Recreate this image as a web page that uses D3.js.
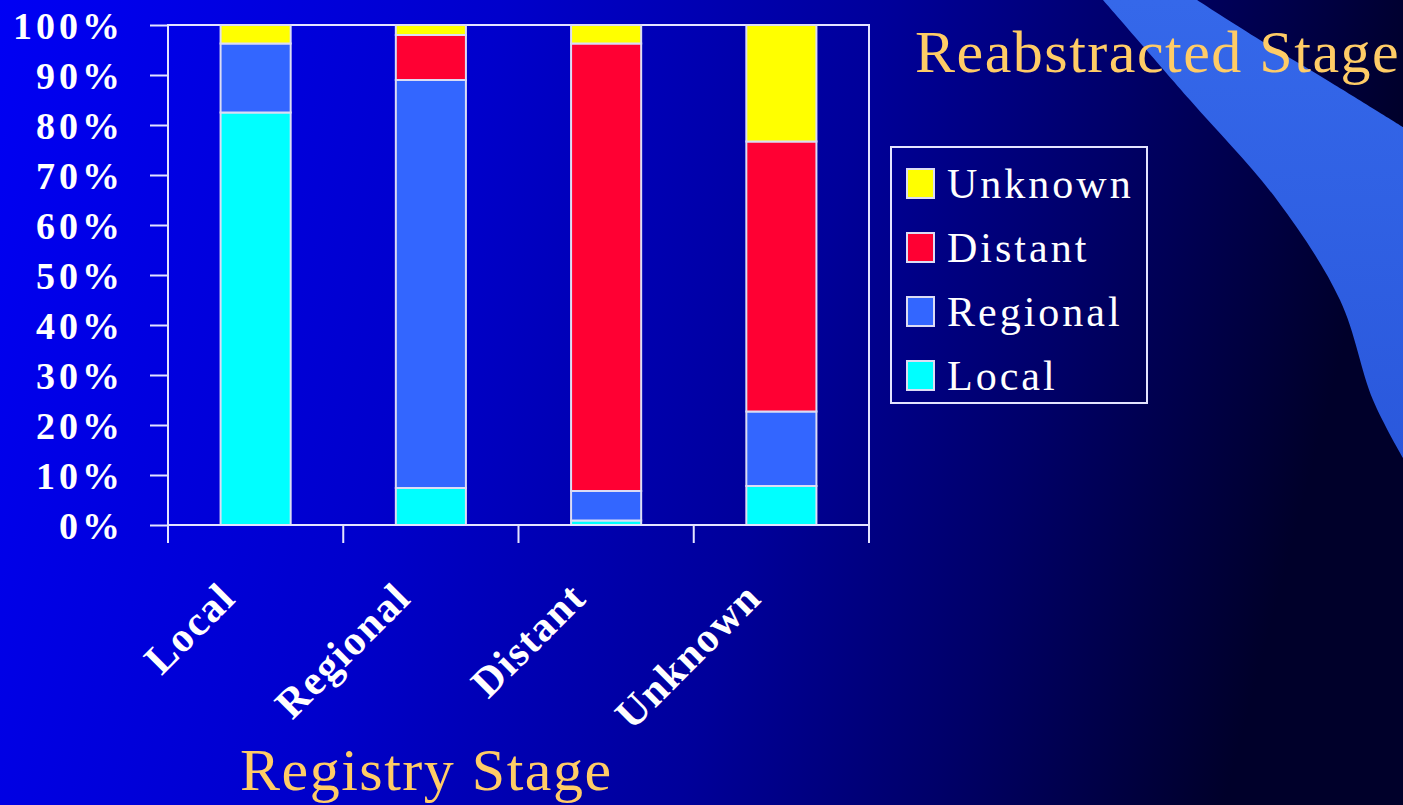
<!DOCTYPE html>
<html>
<head>
<meta charset="utf-8">
<script src="https://cdn.jsdelivr.net/npm/d3@7/dist/d3.min.js"></script>
<style>
  html, body { margin: 0; padding: 0; background: #000030; }
  svg { display: block; }
</style>
</head>
<body>
<svg id="chart" width="1403" height="805"></svg>
<script>
// Registry stage (x axis) vs. reabstracted stage (stack), percent of cases
const categories = ["Local", "Regional", "Distant", "Unknown"];
const seriesNames = ["Local", "Regional", "Distant", "Unknown"];
const localValues    = [82.5,  7.4,  0.9,  7.8];
const regionalValues = [13.8, 81.6,  5.9, 14.9];
const distantValues  = [ 0.0,  9.0, 89.5, 54.0];
const unknownValues  = [ 3.7,  2.0,  3.7, 23.3];
const yTickValues = [0, 10, 20, 30, 40, 50, 60, 70, 80, 90, 100];
const yTickLabels = ["0%", "10%", "20%", "30%", "40%", "50%", "60%", "70%", "80%", "90%", "100%"];
const colors = ["#00FFFF", "#3366FF", "#FF0033", "#FFFF00"];

const svg = d3.select("#chart");
const W = 1403, H = 805;
const plot = { left: 168, right: 869, top: 25, bottom: 525 };
const axisColor = "#E4E4FF";
const serif = "'Liberation Serif', 'Times New Roman', serif";

// Slide background
const defs = svg.append("defs");
const bg = defs.append("linearGradient").attr("id", "bg")
  .attr("x1", "0").attr("y1", "0").attr("x2", "1").attr("y2", "0.15");
bg.append("stop").attr("offset", "0").attr("stop-color", "#0000F4");
bg.append("stop").attr("offset", "0.35").attr("stop-color", "#0000CC");
bg.append("stop").attr("offset", "0.62").attr("stop-color", "#00009A");
bg.append("stop").attr("offset", "0.8").attr("stop-color", "#000068");
bg.append("stop").attr("offset", "1").attr("stop-color", "#00002A");
svg.append("rect").attr("width", W).attr("height", H).attr("fill", "url(#bg)");

const sw = defs.append("linearGradient").attr("id", "swoosh")
  .attr("x1", "0").attr("y1", "0").attr("x2", "0").attr("y2", "1");
sw.append("stop").attr("offset", "0").attr("stop-color", "#3568EA");
sw.append("stop").attr("offset", "1").attr("stop-color", "#2A58DC");

// Decorative swoosh in the upper-right corner
const outerEdge = [[1103, 0], [1190, 100], [1277, 200], [1340, 300], [1373, 400], [1403, 458]];
const innerEdge = [[1403, 127], [1330, 82], [1260, 40], [1197, 0]];
const edge = d3.line().curve(d3.curveCatmullRom.alpha(0.5));
svg.append("path")
  .attr("d", edge(outerEdge) + "L" + edge(innerEdge).slice(1) + "Z")
  .attr("fill", "url(#swoosh)");

// Scales
const x = d3.scaleBand().domain(categories)
  .range([plot.left, plot.right]).paddingInner(0.6).paddingOuter(0.3);
const y = d3.scaleLinear().domain([0, 100]).range([plot.bottom, plot.top]);

// Stacked data
const table = categories.map((c, i) => ({
  category: c,
  Local: localValues[i], Regional: regionalValues[i],
  Distant: distantValues[i], Unknown: unknownValues[i]
}));
const stacked = d3.stack().keys(seriesNames)(table);

// Plot frame (top, right and left edges)
svg.append("path")
  .attr("d", `M${plot.left},${plot.bottom}V${plot.top}H${plot.right}V${plot.bottom}`)
  .attr("fill", "none").attr("stroke", axisColor).attr("stroke-width", 2);

// Bars
svg.append("g").selectAll("g").data(stacked).join("g")
  .attr("fill", (d, i) => colors[i])
  .selectAll("rect").data(d => d.filter(s => s[1] - s[0] > 0)).join("rect")
  .attr("x", d => x(d.data.category))
  .attr("width", x.bandwidth())
  .attr("y", d => y(d[1]))
  .attr("height", d => y(d[0]) - y(d[1]))
  .attr("stroke", "#DCDCF4").attr("stroke-width", 2);

// Y axis
const yAxis = d3.axisLeft(y).tickValues(yTickValues)
  .tickFormat((d, i) => yTickLabels[i]).tickSize(18).tickPadding(26);
const yg = svg.append("g").attr("transform", `translate(${plot.left},0)`).call(yAxis);
yg.select(".domain").remove();
yg.selectAll("line").attr("stroke", axisColor).attr("stroke-width", 2);
yg.selectAll("text")
  .attr("fill", "#FFFFFF").attr("font-family", serif).attr("font-weight", "bold")
  .attr("font-size", 38).attr("letter-spacing", 4).attr("dy", "0.36em");

// X axis baseline and boundary ticks
const step = x.step();
const xTicks = d3.range(categories.length + 1).map(i => plot.left + i * step);
svg.append("line").attr("x1", plot.left).attr("x2", plot.right)
  .attr("y1", plot.bottom).attr("y2", plot.bottom)
  .attr("stroke", axisColor).attr("stroke-width", 2);
svg.append("g").selectAll("line").data(xTicks).join("line")
  .attr("x1", d => d).attr("x2", d => d)
  .attr("y1", plot.bottom).attr("y2", plot.bottom + 18)
  .attr("stroke", axisColor).attr("stroke-width", 2);

// Rotated category labels
svg.append("g").selectAll("text").data(categories).join("text")
  .attr("transform", d => `translate(${x(d) + x.bandwidth() / 2 - 18},${600}) rotate(-45)`)
  .attr("text-anchor", "end")
  .attr("fill", "#FFFFFF").attr("font-family", serif).attr("font-weight", "bold")
  .attr("font-size", 42).attr("letter-spacing", 1.5)
  .text(d => d);

// Axis titles
svg.append("text").attr("x", 240).attr("y", 790)
  .attr("fill", "#FFCC66").attr("font-family", serif)
  .attr("font-size", 60).attr("letter-spacing", 1.5)
  .text("Registry Stage");
svg.append("text").attr("x", 915).attr("y", 72)
  .attr("fill", "#FFCC66").attr("font-family", serif)
  .attr("font-size", 60).attr("letter-spacing", 1.5)
  .text("Reabstracted Stage");

// Legend (top entry first)
const legend = svg.append("g");
legend.append("rect").attr("x", 891).attr("y", 147).attr("width", 256).attr("height", 256)
  .attr("fill", "none").attr("stroke", axisColor).attr("stroke-width", 2);
const legendOrder = seriesNames.map((n, i) => ({ name: n, color: colors[i] })).reverse();
const rows = legend.selectAll("g").data(legendOrder).join("g")
  .attr("transform", (d, i) => `translate(907,${169 + i * 64})`);
rows.append("rect").attr("width", 27).attr("height", 29)
  .attr("fill", d => d.color).attr("stroke", "#DCDCF4").attr("stroke-width", 2);
rows.append("text").attr("x", 40).attr("y", 29)
  .attr("fill", "#FFFFFF").attr("font-family", serif)
  .attr("font-size", 42).attr("letter-spacing", 3)
  .text(d => d.name);
</script>
</body>
</html>
